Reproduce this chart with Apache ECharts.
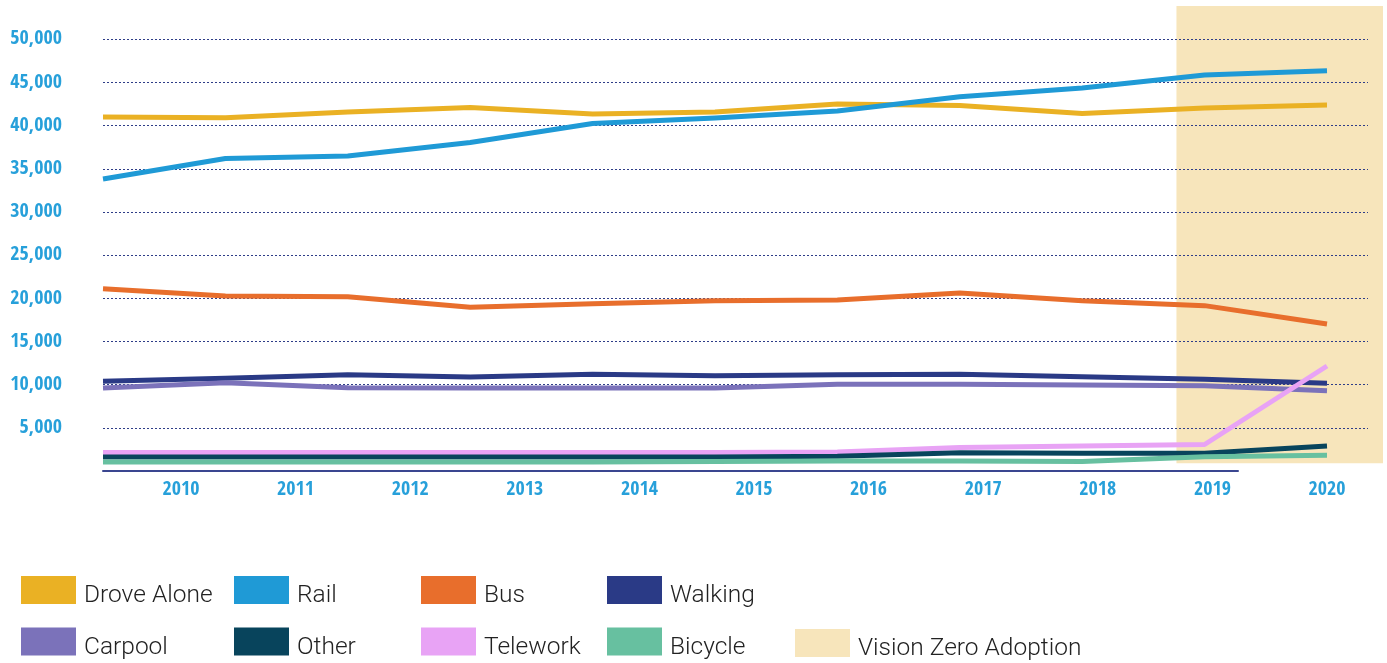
<!DOCTYPE html>
<html>
<head>
<meta charset="utf-8">
<script src="https://cdn.jsdelivr.net/npm/echarts@6/dist/echarts.min.js"></script>
<style>
html,body{margin:0;padding:0;background:#fff;}
#chart{width:1387px;height:663px;}
</style>
</head>
<body>
<div id="chart"></div>
<script>
// ---- Data ----
const years = ['2010','2011','2012','2013','2014','2015','2016','2017','2018','2019','2020'];
const droveAlone = [40990, 40910, 41570, 42090, 41340, 41570, 42500, 42320, 41400, 42040, 42380];
const rail       = [33810, 36190, 36480, 38040, 40240, 40880, 41690, 43340, 44350, 45860, 46350];
const bus        = [21110, 20270, 20190, 18970, 19370, 19720, 19800, 20610, 19710, 19150, 17020];
const walking    = [10390, 10730, 11150, 10890, 11200, 11040, 11150, 11200, 10920, 10620, 10160];
const carpool    = [9610, 10220, 9650, 9610, 9610, 9610, 10040, 10040, 9960, 9880, 9300];
const other      = [1620, 1620, 1620, 1620, 1620, 1620, 1700, 2120, 2050, 2050, 2900];
const telework   = [2150, 2150, 2150, 2150, 2150, 2150, 2200, 2720, 2900, 3070, 12160];
const bicycle    = [1050, 1050, 1050, 1050, 1050, 1100, 1150, 1150, 1100, 1650, 1820];
const visionZeroStart = 8.77;   // position on the year index scale where the shaded period begins
const visionZeroFloor = 900;    // lower value of the shaded period
const yMax = 53850;
const yStep = 5000;
const yLabelMax = 50000;

const seriesDefs = [
  {name:'Drove Alone', data: droveAlone, color:'#EAB124'},
  {name:'Rail',        data: rail,       color:'#1F9AD6'},
  {name:'Bus',         data: bus,        color:'#E86E2C'},
  {name:'Walking',     data: walking,    color:'#2A3A86'},
  {name:'Carpool',     data: carpool,    color:'#7B72BA'},
  {name:'Telework',    data: telework,   color:'#E8A3F5'},
  {name:'Other',       data: other,      color:'#08445C'},
  {name:'Bicycle',     data: bicycle,    color:'#67C0A0'}
];

const stepPx = (1327 - 103) / (years.length - 1);
const xMax = (1383 - 103) / stepPx;

const labelBlue = '#27A0DA';
const gridNavy = '#2E3D88';
const axisFont = "'Open Sans Condensed','DejaVu Sans Condensed',sans-serif";

const legendCommon = {
  orient: 'vertical',
  icon: 'rect',
  itemWidth: 55,
  itemHeight: 28,
  itemGap: 13,
  padding: 0,
  top: 570,
  height: 200,
  selectedMode: false,
  formatter: name => '{gap| }\n{t|' + name + '}',
  textStyle: {
    color: '#222',
    rich: {
      gap: {fontSize: 1, height: 12, lineHeight: 12},
      t: {fontFamily: 'Roboto', fontWeight: 300, fontSize: 24.5, lineHeight: 28, color: '#222', padding: [0,0,0,3]}
    }
  }
};

const option = {
  animation: false,
  backgroundColor: '#fff',
  grid: [
    {left: 103, right: 4, top: 6, bottom: 192, outerBoundsMode: 'none'},
    {left: 181, right: 60, top: 6, bottom: 192, outerBoundsMode: 'none'},
    {left: 103, right: 149, top: 6, bottom: 192, outerBoundsMode: 'none'},
    {left: 103, right: 19, top: 6, bottom: 192, outerBoundsMode: 'none'}
  ],
  xAxis: [
    {gridIndex: 0, type: 'value', min: 0, max: xMax, show: false, splitLine: {show: false}},
    {gridIndex: 1, type: 'category', data: years, boundaryGap: false,
     axisLine: {show: false}, axisTick: {show: false}, splitLine: {show: false},
     axisLabel: {color: labelBlue, fontFamily: axisFont, fontWeight: 'bold', fontSize: 20, margin: 9}},
    {gridIndex: 2, type: 'category', data: years, boundaryGap: false,
     axisLine: {show: true, lineStyle: {color: '#3A4690', width: 2}},
     axisTick: {show: false}, axisLabel: {show: false}, splitLine: {show: false}},
    {gridIndex: 3, type: 'value', min: 0, max: 1, show: false, splitLine: {show: false}}
  ],
  yAxis: [
    {gridIndex: 0, type: 'value', min: 0, max: yMax, interval: yStep,
     axisLine: {show: false}, axisTick: {show: false},
     axisLabel: {
       color: labelBlue, fontFamily: axisFont, fontWeight: 'bold', fontSize: 20, margin: 41,
       formatter: v => (v > 0 && v <= yLabelMax && v % yStep === 0) ? v.toLocaleString('en-US') : ''
     },
     splitLine: {show: false}},
    {gridIndex: 1, type: 'value', min: 0, max: yMax, show: false, splitLine: {show: false}},
    {gridIndex: 2, type: 'value', min: 0, max: yMax, show: false, splitLine: {show: false}},
    {gridIndex: 3, type: 'value', min: 0, max: yMax, interval: yStep, z: 1,
     axisLine: {show: false}, axisTick: {show: false}, axisLabel: {show: false},
     splitLine: {show: true, showMinLine: false, showMaxLine: false,
                 lineStyle: {color: gridNavy, width: 1, type: [2, 2]}}}
  ],
  legend: [
    Object.assign({}, legendCommon, {left: 21, data: ['Drove Alone', 'Carpool']}),
    Object.assign({}, legendCommon, {left: 234, data: ['Rail', 'Other']}),
    Object.assign({}, legendCommon, {left: 421, data: ['Bus', 'Telework']}),
    Object.assign({}, legendCommon, {left: 607, data: ['Walking', 'Bicycle']}),
    Object.assign({}, legendCommon, {left: 795, top: 623, data: ['Vision Zero Adoption']})
  ],
  series: [
    {
      name: 'Vision Zero Adoption', type: 'line', xAxisIndex: 0, yAxisIndex: 0, data: [],
      z: 0, color: '#F7E5BB', itemStyle: {color: '#F7E5BB'}, lineStyle: {color: '#F7E5BB'},
      markArea: {silent: true, z: 0, itemStyle: {color: '#F7E5BB'},
        data: [[{xAxis: visionZeroStart, yAxis: visionZeroFloor}, {}]]}
    }
  ].concat(seriesDefs.map(s => ({
    name: s.name, type: 'line', xAxisIndex: 0, yAxisIndex: 0,
    data: s.data.map((v, i) => [i, v]),
    symbol: 'none', color: s.color,
    itemStyle: {color: s.color},
    lineStyle: {color: s.color, width: 5, cap: 'butt', join: 'round'},
    z: 2
  })))
};

const chart = echarts.init(document.getElementById('chart'), null, {renderer: 'canvas'});
chart.setOption(option);
</script>
</body>
</html>
